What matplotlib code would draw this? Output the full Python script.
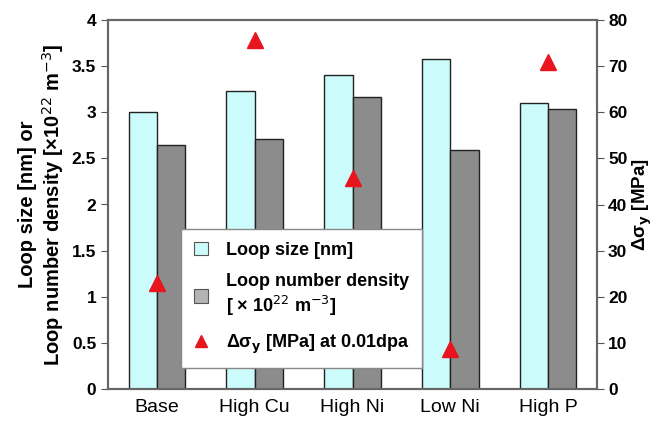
import numpy as np
import matplotlib.pyplot as plt
from matplotlib.lines import Line2D
from matplotlib.patches import Patch

plt.rcParams['font.family'] = ['Liberation Sans', 'DejaVu Sans']

categories = ["Base", "High Cu", "High Ni", "Low Ni", "High P"]
loop_size = [3.00, 3.23, 3.40, 3.58, 3.10]
loop_density = [2.64, 2.71, 3.16, 2.59, 3.03]
delta_sigma = [23.0, 75.7, 45.7, 8.7, 70.9]

cyan = "#ccfbfb"
grey = "#8c8c8c"
edge = "#222222"

fig = plt.figure(figsize=(6.56, 4.23), dpi=100)
ax = fig.add_axes([108/656, 1-389/423, 489/656, 369/423])
x = np.arange(len(categories))
w = 0.29
ax.bar(x - w/2, loop_size, w, color=cyan, edgecolor=edge, linewidth=1.0)
ax.bar(x + w/2, loop_density, w, color=grey, edgecolor=edge, linewidth=1.0)
ax.set_xlim(-0.5, 4.5)
ax.set_ylim(0, 4)
ax.set_yticks(np.arange(0, 4.01, 0.5))
ax.set_yticklabels(["0", "0.5", "1", "1.5", "2", "2.5", "3", "3.5", "4"],
                   fontweight="bold", fontsize=12.5)
ax.set_xticks(x)
ax.set_xticklabels(categories, fontsize=14)
ax.tick_params(axis="x", length=0, pad=7)
ax.tick_params(axis="y", direction="out", length=5, color="#555555")
ax.set_ylabel("Loop size [nm] or\nLoop number density [×10$^{22}$ m$^{-3}$]",
              fontweight="bold", fontsize=14.5, linespacing=1.15)
for s in ax.spines.values():
    s.set_color("#666666")
    s.set_linewidth(1.5)

ax2 = ax.twinx()
ax2.plot(x, delta_sigma, "^", color="#e8141e", markersize=11, linestyle="none")
ax2.set_ylim(0, 80)
ax2.set_yticks(np.arange(0, 81, 10))
ax2.set_yticklabels([str(v) for v in range(0, 81, 10)], fontweight="bold", fontsize=12.5)
ax2.tick_params(axis="y", direction="out", length=5, color="#555555", pad=3)
ax2.set_ylabel("Δσ$_\\mathbf{y}$ [MPa]", fontweight="bold", fontsize=13.5, labelpad=2)
for s in ax2.spines.values():
    s.set_color("#666666")
    s.set_linewidth(1.5)

handles = [
    Patch(facecolor=cyan, edgecolor="#555555", linewidth=0.8),
    Patch(facecolor="#b4b4b4", edgecolor="#555555", linewidth=0.8),
    Line2D([], [], marker="^", color="#e8141e", linestyle="none", markersize=9),
]
labels = [
    "Loop size [nm]",
    "Loop number density\n[ × 10$^{22}$ m$^{-3}$]",
    "Δσ$_\\mathbf{y}$ [MPa] at 0.01dpa",
]
leg = ax2.legend(handles, labels, loc="upper left",
                 bbox_to_anchor=(172/656, 1-220/423), bbox_transform=fig.transFigure,
                 prop={"weight": "bold", "size": 13}, fancybox=False,
                 framealpha=1, edgecolor="#888888", handlelength=0.8,
                 handleheight=0.8, labelspacing=0.8, borderpad=0.7,
                 handletextpad=1.0)
leg.get_frame().set_linewidth(1.0)

fig.savefig("out.png", dpi=100)
